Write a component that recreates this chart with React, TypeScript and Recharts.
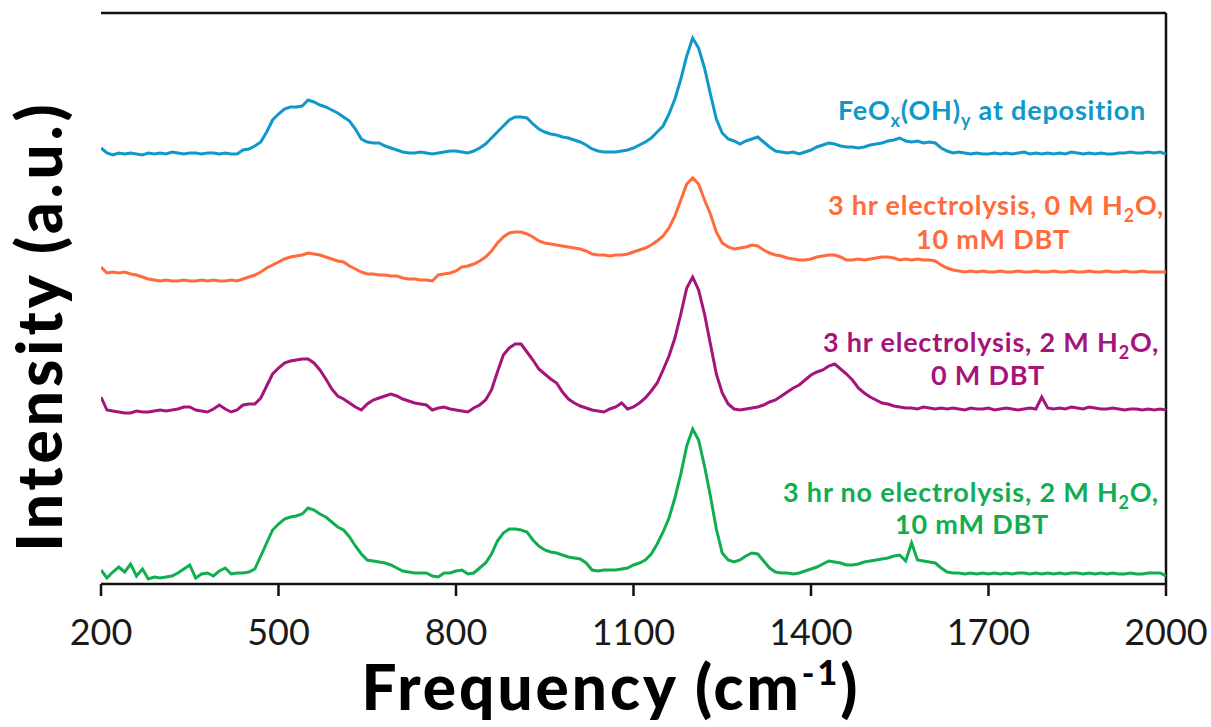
import { LineChart, Line, XAxis, YAxis, ReferenceLine } from "recharts";

// Raman shift grid (cm-1), one reading every 10 cm-1
const freq: number[] = Array.from({ length: 181 }, (_, i) => 200 + i * 10);
const xTicks = [200, 500, 800, 1100, 1400, 1700, 2000];

// vertical offset of each trace in the stacked plot
const offsets = [430, 312, 174, 10];
const yMax = 571;

const deposition = [
  6, 1, -1, 1, 0, 1, 0, -1, 1, 0,
  1, 0, 2, 1, 0, 1, 1, 0, 1, 1,
  0, 1, 0, 0, 4, 5, 8, 12, 22, 34,
  40, 45, 47, 47, 48, 54, 52, 49, 47, 44,
  41, 37, 33, 25, 15, 12, 11, 11, 8, 6,
  4, 2, 1, 1, 2, 1, 0, 1, 2, 3,
  3, 2, 1, 3, 6, 10, 16, 22, 28, 34,
  37, 37, 36, 30, 25, 22, 20, 19, 17, 16,
  14, 12, 9, 5, 3, 2, 2, 2, 3, 4,
  6, 9, 12, 16, 22, 28, 40, 55, 75, 98,
  116, 106, 86, 60, 35, 21, 15, 13, 10, 13,
  15, 17, 12, 7, 3, 2, 1, 2, 0, 2,
  4, 7, 9, 11, 10, 8, 7, 7, 6, 7,
  9, 10, 11, 13, 14, 16, 13, 12, 13, 11,
  12, 11, 6, 3, 1, 2, 1, 0, 1, 0,
  0, 1, 0, 1, 0, 1, 2, 0, 1, 0,
  1, 0, 1, 0, 2, 1, 0, 1, 0, 1,
  0, 0, 1, 1, 2, 1, 1, 2, 1, 2,
  0,
];

const noWater = [
  5, -1, 0, -1, 0, -2, -3, -5, -7, -8,
  -9, -8, -9, -9, -8, -9, -9, -8, -9, -8,
  -9, -9, -8, -9, -7, -5, -3, 0, 4, 7,
  10, 13, 15, 16, 17, 19, 18, 17, 15, 13,
  11, 10, 6, 3, 0, -2, -2, -3, -3, -4,
  -4, -6, -7, -7, -8, -8, -9, -3, -2, -1,
  1, 5, 6, 8, 11, 15, 21, 29, 35, 39,
  40, 40, 38, 35, 31, 29, 28, 27, 26, 25,
  24, 23, 21, 18, 17, 17, 16, 17, 17, 18,
  20, 22, 24, 27, 31, 36, 44, 56, 72, 88,
  94, 88, 72, 58, 40, 29, 25, 23, 24, 25,
  27, 26, 22, 19, 17, 16, 14, 13, 12, 12,
  13, 15, 16, 17, 17, 15, 12, 12, 13, 12,
  13, 14, 15, 15, 14, 12, 13, 12, 13, 12,
  12, 11, 7, 4, 2, 1, 0, 1, 0, 1,
  0, 0, 1, 0, 0, 1, 0, 0, 1, 0,
  0, 1, 0, 0, 1, 0, 0, 1, 0, 0,
  1, 0, 0, 1, 0, 0, 1, 0, 0, 0,
  0,
];

const noDbt = [
  13, 0, -1, -2, -3, -3, -1, -2, -2, -1,
  0, -1, 0, 1, 3, 3, 0, -1, -2, 1,
  5, 1, -2, 0, 5, 6, 6, 12, 24, 36,
  42, 47, 49, 50, 51, 51, 47, 40, 31, 21,
  14, 11, 7, 3, 0, 6, 10, 12, 14, 16,
  14, 11, 9, 7, 6, 5, 0, 2, 3, 1,
  0, -1, -2, 2, 5, 10, 20, 38, 55, 62,
  66, 66, 58, 50, 41, 36, 31, 27, 18, 11,
  7, 4, 2, 0, -1, -2, 1, 3, 7, 1,
  3, 7, 12, 19, 27, 40, 54, 72, 96, 122,
  133, 120, 96, 66, 36, 17, 6, 1, 0, 1,
  2, 3, 5, 8, 10, 14, 18, 22, 25, 30,
  35, 38, 40, 44, 46, 41, 36, 30, 22, 17,
  13, 10, 7, 6, 4, 3, 2, 2, 1, 3,
  2, 1, 2, 1, 2, 1, 0, 2, 1, 1,
  2, 0, 1, 2, 1, 0, 1, 2, 1, 13,
  2, 1, 2, 1, 3, 2, 1, 3, 2, 1,
  1, 2, 1, 0, 1, 1, 0, 1, 0, 1,
  0,
];

const noElectrolysis = [
  4, -4, 2, 7, 2, 10, -2, 5, -5, -3,
  -4, -3, -2, 1, 5, 9, -4, 0, 1, -2,
  3, 6, 0, 1, 1, 2, 5, 18, 31, 44,
  50, 55, 57, 58, 60, 66, 64, 60, 57, 52,
  47, 44, 37, 28, 20, 14, 13, 12, 11, 9,
  6, 3, 2, 1, 1, 1, -2, -3, 1, 1,
  3, 4, 0, 1, 6, 11, 20, 33, 41, 45,
  45, 44, 42, 34, 28, 24, 22, 21, 19, 17,
  16, 15, 11, 4, 3, 4, 4, 4, 5, 6,
  9, 11, 14, 20, 30, 42, 56, 76, 100, 128,
  145, 134, 108, 78, 45, 21, 14, 12, 14, 18,
  21, 20, 13, 6, 2, 1, 1, 0, 1, 3,
  5, 7, 10, 13, 12, 11, 9, 9, 10, 12,
  13, 14, 15, 16, 18, 19, 13, 31, 14, 13,
  12, 11, 6, 2, 1, 1, 0, 1, 0, 1,
  0, 1, 0, 1, 0, 1, 1, 0, 1, 0,
  1, 0, 1, 0, 1, 1, 0, 1, 0, 1,
  0, 1, 0, 0, 1, 0, 0, 1, 1, 1,
  -2,
];

const colors = ["#0f98c9", "#ff6b3a", "#a5147b", "#10ae50"];

const data = freq.map((f, i) => ({
  f,
  dep: deposition[i] + offsets[0],
  water0: noWater[i] + offsets[1],
  dbt0: noDbt[i] + offsets[2],
  noel: noElectrolysis[i] + offsets[3],
}));

const FONT = "Lato, 'Open Sans', sans-serif";

function Tick(props: any) {
  const { x, payload } = props;
  return (
    <text x={x} y={645} textAnchor="middle" fontSize={36} fontFamily={FONT} fill="#1a1a1a">
      {payload.value}
    </text>
  );
}

export default function App() {
  const axisStyle = { stroke: "#111", strokeWidth: 2.5 };
  return (
    <div style={{ position: "relative", width: 1211, height: 727, background: "#fff" }}>
      <style>{"body{margin:0}"}</style>
      <LineChart
        width={1211}
        height={727}
        data={data}
        margin={{ top: 13, right: 45, left: 101, bottom: 93 }}
      >
        <XAxis
          dataKey="f"
          type="number"
          domain={[200, 2000]}
          ticks={xTicks}
          allowDataOverflow
          height={50}
          tickSize={12}
          axisLine={axisStyle}
          tickLine={axisStyle}
          tick={<Tick />}
        />
        <YAxis
          yAxisId="left"
          type="number"
          domain={[0, yMax]}
          allowDataOverflow
          width={0}
          tick={false}
          tickLine={false}
          axisLine={axisStyle}
        />
        {/* closing frame: top and right edges */}
        <ReferenceLine yAxisId="left" y={yMax} stroke="#111" strokeWidth={2.5} />
        <ReferenceLine yAxisId="left" x={2000} stroke="#111" strokeWidth={2.5} />
        <Line yAxisId="left" type="linear" dataKey="dep" stroke={colors[0]} strokeWidth={3} dot={false} isAnimationActive={false} />
        <Line yAxisId="left" type="linear" dataKey="water0" stroke={colors[1]} strokeWidth={3} dot={false} isAnimationActive={false} />
        <Line yAxisId="left" type="linear" dataKey="dbt0" stroke={colors[2]} strokeWidth={3} dot={false} isAnimationActive={false} />
        <Line yAxisId="left" type="linear" dataKey="noel" stroke={colors[3]} strokeWidth={3} dot={false} isAnimationActive={false} />
      </LineChart>

      {/* titles and trace labels */}
      <svg
        width={1211}
        height={727}
        style={{ position: "absolute", left: 0, top: 0, pointerEvents: "none" }}
        fontFamily={FONT}
      >
        <text transform="translate(62,326) rotate(-90)" textAnchor="middle" fontSize={62} fontWeight={900} letterSpacing={4} fill="#000">
          Intensity (a.u.)
        </text>
        <text x={611} y={710} textAnchor="middle" fontSize={62} fontWeight={900} letterSpacing={3} fill="#000">
          Frequency (cm<tspan fontSize={34} dy={-25}>-1</tspan>
          <tspan dy={25}>)</tspan>
        </text>

        <g fontSize={27} fontWeight={700} letterSpacing={0.8} textAnchor="middle">
          <text x={992} y={120} fill={colors[0]}>
            FeO<tspan fontSize={18} dy={7}>x</tspan>
            <tspan dy={-7}>(OH)</tspan>
            <tspan fontSize={18} dy={7}>y</tspan>
            <tspan dy={-7}> at deposition</tspan>
          </text>

          <text x={996} y={215} fill={colors[1]}>
            3 hr electrolysis, 0 M H<tspan fontSize={18} dy={7}>2</tspan>
            <tspan dy={-7}>O,</tspan>
          </text>
          <text x={993} y={249} fill={colors[1]}>10 mM DBT</text>

          <text x={991} y={352} fill={colors[2]}>
            3 hr electrolysis, 2 M H<tspan fontSize={18} dy={7}>2</tspan>
            <tspan dy={-7}>O,</tspan>
          </text>
          <text x={988} y={385} fill={colors[2]}>0 M DBT</text>

          <text x={971} y={502} fill={colors[3]}>
            3 hr no electrolysis, 2 M H<tspan fontSize={18} dy={7}>2</tspan>
            <tspan dy={-7}>O,</tspan>
          </text>
          <text x={972} y={534} fill={colors[3]}>10 mM DBT</text>
        </g>
      </svg>
    </div>
  );
}
